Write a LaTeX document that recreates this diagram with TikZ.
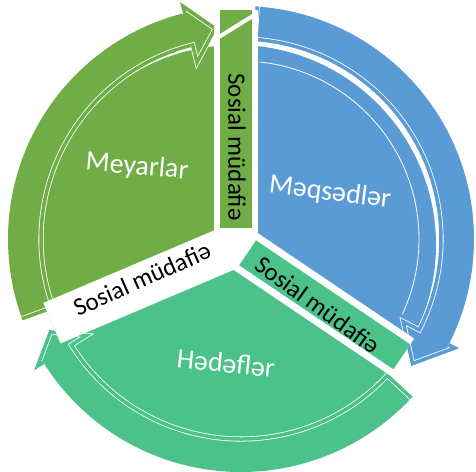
\documentclass[tikz,border=0pt]{standalone}
\usepackage{fontspec}
\setmainfont{Carlito}
\usepackage{tikz}
\usetikzlibrary{calc}
\definecolor{meyargreen}{HTML}{70AD47}
\definecolor{meqsedblue}{HTML}{5B9BD5}
\definecolor{hedefteal}{HTML}{4BC28A}
\tikzstyle{gapband}=[draw=white, line width=44pt]
\tikzstyle{rim}=[draw=white, line width=0.8pt, double distance=3.5pt]
\tikzstyle{title}=[text=white, font=\fontsize{28}{32}\selectfont, inner sep=0pt]
\tikzstyle{tabtext}=[text=black, font=\fontsize{25}{28}\selectfont, inner sep=0pt]
% ring arrow round (A): colour, tail angle, head back angle, tip angle
\newcommand{\ringarrow}[4]{%
  \fill[#1] ($(A)+(#2:233)$) arc[start angle=#2, end angle=#3, radius=233]
    -- ($(A)+(#3:240)$) -- ($(A)+(#4:212)$) -- ($(A)+(#3:182)$)
    -- ($(A)+(#3:200)$) arc[start angle=#3, end angle=#2, radius=200] -- cycle;
  \draw[rim, double=#1] ($(A)+(#2:233)$) -- ($(A)+(#2:200)$)
    arc[start angle=#2, end angle=#3, radius=200]
    -- ($(A)+(#3:182)$) -- ($(A)+(#4:212)$) -- ($(A)+(#3:240)$) -- ($(A)+(#3:233)$);
}
\begin{document}
\begin{tikzpicture}[x=1pt, y=-1pt]
\useasboundingbox (0,0) rectangle (476,471);
\coordinate (O) at (236,245);
\coordinate (A) at (241,239);
% wedges
\fill[meyargreen] (O) -- ($(O)+(157:200)$) arc[start angle=157, end angle=270, radius=200] -- cycle;
\fill[meqsedblue] (O) -- ($(O)+(-90:200)$) arc[start angle=-90, end angle=34, radius=200] -- cycle;
\fill[hedefteal] (O) -- ($(O)+(34:200)$) arc[start angle=34, end angle=157, radius=200] -- cycle;
% arrows
\ringarrow{meyargreen}{160}{256}{263}
\ringarrow{meqsedblue}{-86}{27}{36}
\ringarrow{hedefteal}{43}{148}{154}
\draw[white, line width=0.8pt] ($(A)+(-84:178)$) arc[start angle=-84, end angle=25, radius=178];
% gaps
\draw[gapband] (O) -- ($(O)+(-90:235)$);
\draw[gapband] (O) -- ($(O)+(157:200)$);
\draw[gapband] (O) -- ($(O)+(34:200)$);
% tabs
\fill[meyargreen] (220,228) -- (220,10) -- (252,10) -- (252,228) -- cycle;
\draw[white, line width=4pt] (214,40) -- (256,14);
\fill[hedefteal] ($(O)+(34:14)+(124:15)$) -- ($(O)+(34:200)+(124:15)$)
  -- ($(O)+(34:200)+(-56:15)$) -- ($(O)+(34:14)+(-56:15)$) -- cycle;
\node[tabtext, rotate=-90] (tabtop) at (237,147) {Sosial müdafiə};
\node[tabtext, rotate=-36] (tabright) at (318,305) {Sosial müdafiə};
\node[tabtext, rotate=24] (tableft) at (142,279) {Sosial müdafiə};
% titles
\node[title, rotate=-5] (meyar) at (137,167) {Meyarlar};
\node[title, rotate=-7] (meqsed) at (330,193) {Məqsədlər};
\node[title, rotate=-6] (hedef) at (226,363) {Hədəflər};
\end{tikzpicture}
\end{document}
